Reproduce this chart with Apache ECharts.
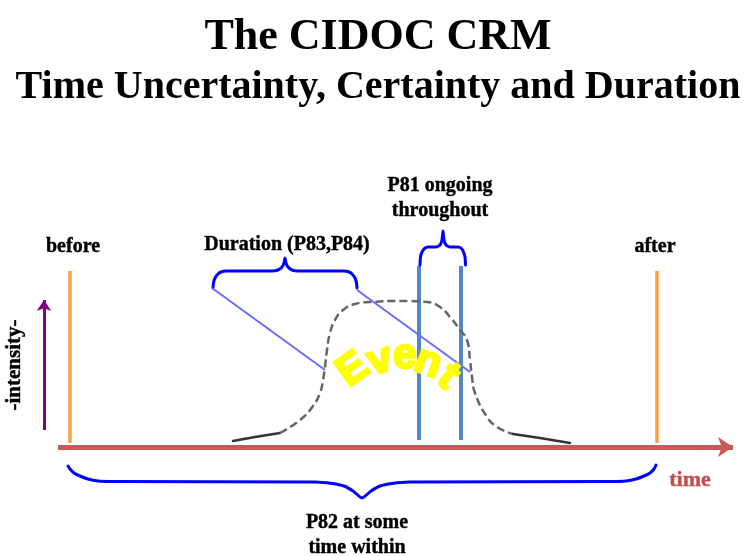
<!DOCTYPE html>
<html>
<head>
<meta charset="utf-8">
<script src="https://cdn.jsdelivr.net/npm/echarts@6/dist/echarts.min.js"></script>
<style>html,body{margin:0;padding:0;background:#fff}#c{width:756px;height:556px}</style>
</head>
<body>
<div id="c"></div>
<script>
// ---- Diagram data (time units along x, intensity units along y; 0 = the time axis) ----
const timeAxisLine = [[-12, 0], [663, 0]];
const intensityArrow = [[-26, 17], [-26, 147]];
const boundaryLines = [[[0, 4], [0, 176]], [[587, 4], [587, 176]]];
const ongoingLines = [[[349, 7], [349, 181]], [[391, 7], [391, 181]]];
const durationLinks = [[[142, 159], [255, 77]], [[287, 157], [400, 75]]];
const curveLeftTail = [[163, 6], [185, 10], [210, 14]];
const curveBody = [[210, 14], [230, 27], [243, 41], [250, 54], [253, 67], [255, 80], [257, 97], [260, 114], [265, 127], [273, 137], [285, 143], [300, 145], [330, 146], [357, 145], [370, 140], [380, 130], [390, 117], [397, 107], [400, 87], [402, 70], [405, 54], [417, 30], [427, 20], [443, 13]];
const curveRightTail = [[443, 13], [470, 9], [500, 4]];
const durationBrace = [[143, 159], [143.5, 164], [145, 169], [147.5, 172.5], [151, 175], [156, 176], [202, 176], [208, 177], [212, 180], [214, 184], [215, 189], [216, 184], [218, 180], [222, 177], [228, 176], [274, 176], [279, 175], [282.5, 172.5], [285, 169], [286.5, 164], [287, 159]];
const ongoingBrace = [[350, 182], [350.5, 190], [352, 195], [354.5, 198.5], [358, 200], [366, 200], [370, 202], [372, 207], [373, 216], [374, 207], [376, 202], [380, 200], [388, 200], [391.5, 198.5], [393.5, 195], [395, 190], [395.5, 182]];
const withinBrace = [[-2, -19], [0, -22], [4, -26], [10, -29], [18, -32], [28, -34], [42, -34.5], [245, -35], [262, -36.5], [274, -39], [283, -44], [292, -51], [301, -44], [310, -39], [322, -36.5], [339, -35], [542, -34.5], [556, -34], [566, -32], [574, -29], [580, -26], [584, -22], [586, -18]];
const labelTexts = ['before', 'after', 'Duration (P83,P84)', 'P81 ongoing\nthroughout', 'time', 'P82 at some\ntime within', '-intensity-'];
const labelPoints = [[3, 200], [585, 200], [217, 202], [370, 249], [620, -33], [287, -88], [-55, 82]];
const eventLetters = ['E', 'v', 'e', 'n', 't'];
const eventPoints = [[283, 77], [310, 86], [335, 91], [358, 84], [378, 70]];
const titleMain = 'The CIDOC CRM';
const titleSub = 'Time Uncertainty, Certainty and Duration';

// ---- Styles ----
const serif = '"Liberation Serif", "Times New Roman", serif';
const letterTilt = [35, 18, 0, -20, -40];
const labelStyle = {
  'time': { color: '#c0504d', fontSize: 22 },
  '-intensity-': { rotate: 90, fontSize: 21 }
};

const chart = echarts.init(document.getElementById('c'), null, { renderer: 'canvas' });

function seg(pairs) { return pairs.map(p => ({ coords: p })); }
function plain(data, color, width, extra) {
  return Object.assign({
    type: 'line', data: data, symbol: 'none', silent: true, animation: false,
    lineStyle: { color: color, width: width, cap: 'round', join: 'round' }, z: 3
  }, extra || {});
}

const option = {
  animation: false,
  backgroundColor: '#ffffff',
  title: [
    { text: titleMain, left: 'center', top: 11,
      textStyle: { fontFamily: serif, fontWeight: 'bold', fontSize: 44, lineHeight: 44, color: '#000' } },
    { text: titleSub, left: 'center', top: 63,
      textStyle: { fontFamily: serif, fontWeight: 'bold', fontSize: 40, lineHeight: 40, color: '#000' } }
  ],
  grid: { left: 0, right: 0, top: 0, bottom: 0 },
  xAxis: { type: 'value', min: -70, max: 686, show: false },
  yAxis: { type: 'value', min: -109, max: 447, show: false },
  series: [
    { type: 'lines', coordinateSystem: 'cartesian2d', silent: true, animation: false, z: 2,
      data: seg([timeAxisLine]), symbol: ['none', 'arrow'], symbolSize: [0, 15],
      lineStyle: { color: '#c55a57', width: 5, opacity: 1 } },
    { type: 'lines', coordinateSystem: 'cartesian2d', silent: true, animation: false, z: 2,
      data: seg([intensityArrow]), symbol: ['none', 'arrow'], symbolSize: [0, 11],
      lineStyle: { color: '#800080', width: 3, opacity: 1 } },
    { type: 'lines', coordinateSystem: 'cartesian2d', silent: true, animation: false, z: 2,
      data: seg(boundaryLines), lineStyle: { color: '#f9a04b', width: 3.5, opacity: 1 } },
    { type: 'lines', coordinateSystem: 'cartesian2d', silent: true, animation: false, z: 2,
      data: seg(ongoingLines), lineStyle: { color: '#5587c4', width: 4, opacity: 1 } },
    { type: 'lines', coordinateSystem: 'cartesian2d', silent: true, animation: false, z: 4,
      data: seg(durationLinks), lineStyle: { color: '#6b6bff', width: 2, opacity: 1 } },
    plain(curveLeftTail, '#333', 2.5),
    plain(curveBody, '#666', 2.5, { smooth: true, lineStyle: { color: '#666', width: 2.5, type: [8, 4] } }),
    plain(curveRightTail, '#333', 2.5),
    plain(durationBrace, '#0000ff', 3, { smooth: 0.2 }),
    plain(ongoingBrace, '#0000ff', 3, { smooth: 0.2 }),
    plain(withinBrace, '#0000ff', 3, { smooth: 0.2 }),
    { type: 'scatter', silent: true, animation: false, symbolSize: 0, z: 6,
      itemStyle: { opacity: 1 },
      data: labelTexts.map((t, i) => ({
        name: t, value: labelPoints[i],
        label: Object.assign({
          show: true, position: 'inside', formatter: '{b}', color: '#000', opacity: 1,
          textBorderWidth: 0.4, textBorderColor: '#000',
          fontFamily: serif, fontWeight: 'bold', fontSize: 20, lineHeight: 25, align: 'center'
        }, labelStyle[t] ? Object.assign({ textBorderColor: labelStyle[t].color || '#000' }, labelStyle[t]) : {})
      })) },
    { type: 'scatter', silent: true, animation: false, symbolSize: 0, z: 5,
      itemStyle: { opacity: 1 },
      data: eventLetters.map((t, i) => ({
        name: t, value: eventPoints[i],
        label: {
          show: true, position: 'inside', formatter: '{b}', color: '#ffff00', opacity: 1,
          textBorderColor: '#ffff00', textBorderWidth: 2.5,
          fontFamily: '"Liberation Sans", Arial, sans-serif', fontWeight: 'bold', fontSize: 42,
          rotate: letterTilt[i]
        }
      })) }
  ]
};
chart.setOption(option);
</script>
</body>
</html>
